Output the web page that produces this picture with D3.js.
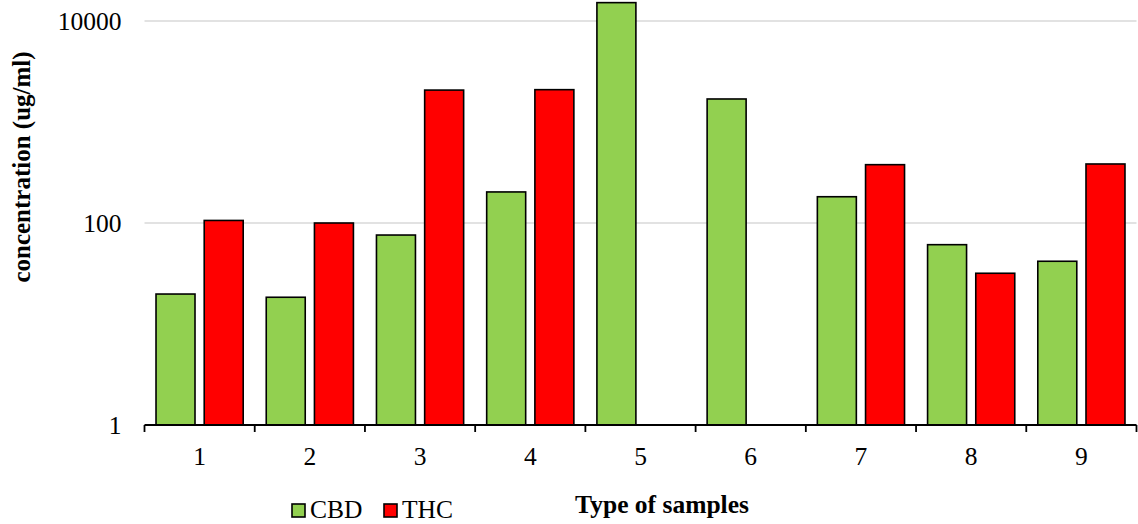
<!DOCTYPE html>
<html>
<head>
<meta charset="utf-8">
<script src="https://cdn.jsdelivr.net/npm/d3@7"></script>
<style>
  html, body { margin: 0; padding: 0; background: #ffffff; }
  svg { display: block; font-family: "Liberation Serif", "Times New Roman", serif; }
</style>
</head>
<body>
<svg id="chart" width="1138" height="524"></svg>
<script>
// Sample categories and measured concentrations (ug/ml)
const categories = ["1", "2", "3", "4", "5", "6", "7", "8", "9"];
const seriesNames = ["CBD", "THC"];
const cbdValues = [19.8, 18.4, 76, 203, 15200, 1690, 182, 61, 41.8];
const thcValues = [106, 100, 2070, 2090, null, null, 378, 31.8, 384];
const yTickValues = [1, 100, 10000];
const seriesColors = ["#92d050", "#ff0000"];

const svg = d3.select("#chart");
const plot = { left: 144.5, right: 1136.5, top: 21, bottom: 425 };

const x0 = d3.scaleBand()
  .domain(categories)
  .range([plot.left, plot.right])
  .paddingInner(0)
  .paddingOuter(0);

const x1 = d3.scaleBand()
  .domain(seriesNames)
  .range([0, x0.bandwidth()])
  .paddingInner(0.191)
  .paddingOuter(0.239);

const y = d3.scaleLog()
  .domain([1, 10000])
  .range([plot.bottom, plot.top]);

const color = d3.scaleOrdinal().domain(seriesNames).range(seriesColors);

// Horizontal gridlines
svg.append("g")
  .selectAll("line")
  .data(yTickValues.filter(v => v > 1))
  .join("line")
  .attr("x1", plot.left)
  .attr("x2", plot.right)
  .attr("y1", d => y(d))
  .attr("y2", d => y(d))
  .attr("stroke", "#d9d9d9")
  .attr("stroke-width", 1.5);

// Y axis labels (no axis line)
const yAxis = d3.axisLeft(y)
  .tickValues(yTickValues)
  .tickFormat(d3.format("d"))
  .tickSize(0)
  .tickPadding(0);
const yg = svg.append("g")
  .attr("transform", `translate(${plot.left - 23},0)`)
  .call(yAxis);
yg.select(".domain").remove();
yg.selectAll("text")
  .attr("font-family", "'Liberation Serif', 'Times New Roman', serif")
  .attr("font-size", 25.5)
  .attr("fill", "#000")
  .attr("dy", "0.33em");

// Bars
const rows = categories.map((c, i) => ({
  category: c,
  values: [
    { key: "CBD", value: cbdValues[i] },
    { key: "THC", value: thcValues[i] }
  ]
}));

svg.append("g")
  .selectAll("g")
  .data(rows)
  .join("g")
  .attr("transform", d => `translate(${x0(d.category)},0)`)
  .selectAll("rect")
  .data(d => d.values.filter(v => v.value != null))
  .join("rect")
  .attr("x", d => x1(d.key))
  .attr("width", x1.bandwidth())
  .attr("y", d => y(d.value))
  .attr("height", d => y(1) - y(d.value))
  .attr("fill", d => color(d.key))
  .attr("stroke", "#000")
  .attr("stroke-width", 1.6);

// X axis
const xAxis = d3.axisBottom(x0).tickSize(0).tickPadding(0);
const xg = svg.append("g")
  .attr("transform", `translate(0,${plot.bottom})`)
  .call(xAxis);
xg.select(".domain").remove();
xg.selectAll("text")
  .attr("font-family", "'Liberation Serif', 'Times New Roman', serif")
  .attr("font-size", 25.5)
  .attr("fill", "#000")
  .attr("dy", 0)
  .attr("y", 40);

xg.append("line")
  .attr("x1", plot.left)
  .attr("x2", plot.right)
  .attr("y1", 0)
  .attr("y2", 0)
  .attr("stroke", "#000")
  .attr("stroke-width", 1.8);

// Boundary tick marks between categories
const boundaries = categories.map(c => x0(c)).concat([x0(categories[categories.length - 1]) + x0.bandwidth()]);
xg.append("g")
  .selectAll("line")
  .data(boundaries)
  .join("line")
  .attr("x1", d => d)
  .attr("x2", d => d)
  .attr("y1", 0)
  .attr("y2", 7)
  .attr("stroke", "#000")
  .attr("stroke-width", 1.8);

// Axis titles
svg.append("text")
  .attr("transform", `translate(30,167) rotate(-90)`)
  .attr("text-anchor", "middle")
  .attr("font-size", 25)
  .attr("font-weight", "bold")
  .attr("fill", "#000")
  .text("concentration (ug/ml)");

svg.append("text")
  .attr("x", 662)
  .attr("y", 513)
  .attr("text-anchor", "middle")
  .attr("font-size", 25.5)
  .attr("font-weight", "bold")
  .attr("fill", "#000")
  .text("Type of samples");

// Legend
const legendItems = [
  { key: "CBD", x: 292 },
  { key: "THC", x: 384 }
];
const legend = svg.append("g");
const li = legend.selectAll("g")
  .data(legendItems)
  .join("g")
  .attr("transform", d => `translate(${d.x},504)`);
li.append("rect")
  .attr("width", 13)
  .attr("height", 13)
  .attr("fill", d => color(d.key))
  .attr("stroke", "#000")
  .attr("stroke-width", 1.6);
li.append("text")
  .attr("x", 18)
  .attr("y", 13.5)
  .attr("font-size", 25.5)
  .attr("fill", "#000")
  .text(d => d.key);
</script>
</body>
</html>
